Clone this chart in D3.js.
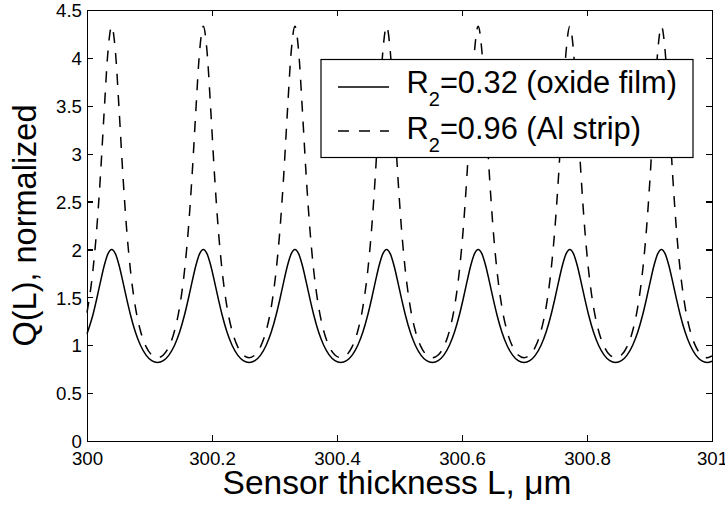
<!DOCTYPE html>
<html>
<head>
<meta charset="utf-8">
<script src="https://cdn.jsdelivr.net/npm/d3@7/dist/d3.min.js"></script>
<style>
  html, body { margin: 0; padding: 0; background: #fff; }
  svg { display: block; font-family: "Liberation Sans", Arial, Helvetica, sans-serif; }
  .axis path, .axis line { stroke: #000; stroke-width: 1.2; shape-rendering: crispEdges; }
  .axis text { fill: #000; font-size: 18.7px; font-family: "Liberation Sans", Arial, sans-serif; }
</style>
</head>
<body>
<svg id="chart" width="725" height="505"></svg>
<script>
// Sensor thickness L (µm) at which Q(L) is sampled
const thicknessL = [
  300.0000, 300.0095, 300.0155, 300.0215, 300.0275, 300.0335, 300.0395, 300.0455, 300.0515, 300.0575,
  300.0635, 300.0695, 300.0775, 300.0855, 300.0945, 300.1035, 300.1128,
  300.1221, 300.1311, 300.1401, 300.1481, 300.1561, 300.1621, 300.1681, 300.1741, 300.1801, 300.1861,
  300.1921, 300.1981, 300.2041, 300.2101, 300.2161, 300.2241, 300.2321, 300.2411, 300.2501, 300.2594,
  300.2687, 300.2777, 300.2867, 300.2947, 300.3027, 300.3087, 300.3147, 300.3207, 300.3267, 300.3327,
  300.3387, 300.3447, 300.3507, 300.3567, 300.3627, 300.3707, 300.3787, 300.3877, 300.3967, 300.4060,
  300.4153, 300.4243, 300.4333, 300.4413, 300.4493, 300.4553, 300.4613, 300.4673, 300.4733, 300.4793,
  300.4853, 300.4913, 300.4973, 300.5033, 300.5093, 300.5173, 300.5253, 300.5343, 300.5433, 300.5526,
  300.5619, 300.5709, 300.5799, 300.5879, 300.5959, 300.6019, 300.6079, 300.6139, 300.6199, 300.6259,
  300.6319, 300.6379, 300.6439, 300.6499, 300.6559, 300.6639, 300.6719, 300.6809, 300.6899, 300.6992,
  300.7085, 300.7175, 300.7265, 300.7345, 300.7425, 300.7485, 300.7545, 300.7605, 300.7665, 300.7725,
  300.7785, 300.7845, 300.7905, 300.7965, 300.8025, 300.8105, 300.8185, 300.8275, 300.8365, 300.8458,
  300.8551, 300.8641, 300.8731, 300.8811, 300.8891, 300.8951, 300.9011, 300.9071, 300.9131, 300.9191,
  300.9251, 300.9311, 300.9371, 300.9431, 300.9491, 300.9571, 300.9651, 300.9741, 300.9831, 300.9924,
  301.0000
];

// Q(L), normalized — R2 = 0.32 (oxide film)
const qOxide = [
  1.120, 1.318, 1.483, 1.661, 1.830, 1.954, 2.000, 1.954, 1.830, 1.661,
  1.483, 1.318, 1.135, 1.000, 0.897, 0.839, 0.820,
  0.839, 0.897, 1.000, 1.135, 1.318, 1.483, 1.661, 1.830, 1.954, 2.000,
  1.954, 1.830, 1.661, 1.483, 1.318, 1.135, 1.000, 0.897, 0.839, 0.820,
  0.839, 0.897, 1.000, 1.135, 1.318, 1.483, 1.661, 1.830, 1.954, 2.000,
  1.954, 1.830, 1.661, 1.483, 1.318, 1.135, 1.000, 0.897, 0.839, 0.820,
  0.839, 0.897, 1.000, 1.135, 1.318, 1.483, 1.661, 1.830, 1.954, 2.000,
  1.954, 1.830, 1.661, 1.483, 1.318, 1.135, 1.000, 0.897, 0.839, 0.820,
  0.839, 0.897, 1.000, 1.135, 1.318, 1.483, 1.661, 1.830, 1.954, 2.000,
  1.954, 1.830, 1.661, 1.483, 1.318, 1.135, 1.000, 0.897, 0.839, 0.820,
  0.839, 0.897, 1.000, 1.135, 1.318, 1.483, 1.661, 1.830, 1.954, 2.000,
  1.954, 1.830, 1.661, 1.483, 1.318, 1.135, 1.000, 0.897, 0.839, 0.820,
  0.839, 0.897, 1.000, 1.135, 1.318, 1.483, 1.661, 1.830, 1.954, 2.000,
  1.954, 1.830, 1.661, 1.483, 1.318, 1.135, 1.000, 0.897, 0.839, 0.820,
  0.833
];

// Q(L), normalized — R2 = 0.96 (Al strip)
const qAlStrip = [
  1.340, 1.783, 2.206, 2.770, 3.444, 4.064, 4.330, 4.064, 3.444, 2.770,
  2.206, 1.783, 1.395, 1.151, 0.985, 0.898, 0.870,
  0.898, 0.985, 1.151, 1.395, 1.783, 2.206, 2.770, 3.444, 4.064, 4.330,
  4.064, 3.444, 2.770, 2.206, 1.783, 1.395, 1.151, 0.985, 0.898, 0.870,
  0.898, 0.985, 1.151, 1.395, 1.783, 2.206, 2.770, 3.444, 4.064, 4.330,
  4.064, 3.444, 2.770, 2.206, 1.783, 1.395, 1.151, 0.985, 0.898, 0.870,
  0.898, 0.985, 1.151, 1.395, 1.783, 2.206, 2.770, 3.444, 4.064, 4.330,
  4.064, 3.444, 2.770, 2.206, 1.783, 1.395, 1.151, 0.985, 0.898, 0.870,
  0.898, 0.985, 1.151, 1.395, 1.783, 2.206, 2.770, 3.444, 4.064, 4.330,
  4.064, 3.444, 2.770, 2.206, 1.783, 1.395, 1.151, 0.985, 0.898, 0.870,
  0.898, 0.985, 1.151, 1.395, 1.783, 2.206, 2.770, 3.444, 4.064, 4.330,
  4.064, 3.444, 2.770, 2.206, 1.783, 1.395, 1.151, 0.985, 0.898, 0.870,
  0.898, 0.985, 1.151, 1.395, 1.783, 2.206, 2.770, 3.444, 4.064, 4.330,
  4.064, 3.444, 2.770, 2.206, 1.783, 1.395, 1.151, 0.985, 0.898, 0.870,
  0.889
];

const xTicks = [300, 300.2, 300.4, 300.6, 300.8, 301];
const xTickLabels = ["300", "300.2", "300.4", "300.6", "300.8", "301"];
const yTicks = [0, 0.5, 1, 1.5, 2, 2.5, 3, 3.5, 4, 4.5];
const yTickLabels = ["0", "0.5", "1", "1.5", "2", "2.5", "3", "3.5", "4", "4.5"];

const seriesNames = ["=0.32 (oxide film)", "=0.96 (Al strip)"];
const xTitle = "Sensor thickness L, \u03bcm";
const yTitle = "Q(L), normalized";

const svg = d3.select("#chart");
svg.append("rect").attr("width", 725).attr("height", 505).attr("fill", "#fff");

const plot = { left: 87, right: 712, top: 10, bottom: 441 };

const x = d3.scaleLinear().domain([300, 301]).range([plot.left, plot.right]);
const y = d3.scaleLinear().domain([0, 4.5]).range([plot.bottom, plot.top]);

const series = [
  { values: qOxide, dash: null },
  { values: qAlStrip, dash: "11,10" }
];

const line = d3.line()
  .x(d => x(d[0]))
  .y(d => y(d[1]))
  .curve(d3.curveMonotoneX);

series.forEach(s => {
  svg.append("path")
    .datum(thicknessL.map((L, i) => [L, s.values[i]]))
    .attr("fill", "none")
    .attr("stroke", "#000")
    .attr("stroke-width", 1.5)
    .attr("stroke-dasharray", s.dash)
    .attr("d", line);
});

// Axes: labelled bottom/left, mirrored unlabelled ticks on top/right, all ticks pointing inward
const tickLen = 6;
svg.append("g").attr("class", "axis")
  .attr("transform", `translate(0,${plot.bottom})`)
  .call(d3.axisBottom(x).tickValues(xTicks)
    .tickFormat((d, i) => xTickLabels[i])
    .tickSizeInner(-tickLen).tickSizeOuter(0).tickPadding(11));

svg.append("g").attr("class", "axis")
  .attr("transform", `translate(0,${plot.top})`)
  .call(d3.axisTop(x).tickValues(xTicks).tickFormat("")
    .tickSizeInner(-tickLen).tickSizeOuter(0));

svg.append("g").attr("class", "axis")
  .attr("transform", `translate(${plot.left},0)`)
  .call(d3.axisLeft(y).tickValues(yTicks)
    .tickFormat((d, i) => yTickLabels[i])
    .tickSizeInner(-tickLen).tickSizeOuter(0).tickPadding(5))
  .selectAll("text").attr("dy", "0.36em");

svg.append("g").attr("class", "axis")
  .attr("transform", `translate(${plot.right},0)`)
  .call(d3.axisRight(y).tickValues(yTicks).tickFormat("")
    .tickSizeInner(-tickLen).tickSizeOuter(0));

// Axis titles
svg.append("text")
  .attr("x", 397)
  .attr("y", 494)
  .attr("text-anchor", "middle")
  .attr("font-size", 33.5)
  .text(xTitle);

svg.append("text")
  .attr("transform", `translate(36,${(plot.top + plot.bottom) / 2}) rotate(-90)`)
  .attr("text-anchor", "middle")
  .attr("font-size", 32.5)
  .text(yTitle);

// Legend
const legend = svg.append("g");
legend.append("rect")
  .attr("x", 321).attr("y", 59.5)
  .attr("width", 372).attr("height", 98)
  .attr("fill", "#fff").attr("stroke", "#000").attr("stroke-width", 1.2);

const legendRows = [87, 131];
const legendBaselines = [93.3, 139.3];
series.forEach((s, i) => {
  legend.append("line")
    .attr("x1", 338).attr("x2", 389)
    .attr("y1", legendRows[i]).attr("y2", legendRows[i])
    .attr("stroke", "#000").attr("stroke-width", 1.5)
    .attr("stroke-dasharray", s.dash);
  const t = legend.append("text")
    .attr("x", 406.5).attr("y", legendBaselines[i])
    .attr("font-size", 30.8);
  t.append("tspan").text("R");
  t.append("tspan").attr("font-size", 20).attr("dy", 13).text("2");
  t.append("tspan").attr("dy", -13).text(seriesNames[i]);
});
</script>
</body>
</html>
